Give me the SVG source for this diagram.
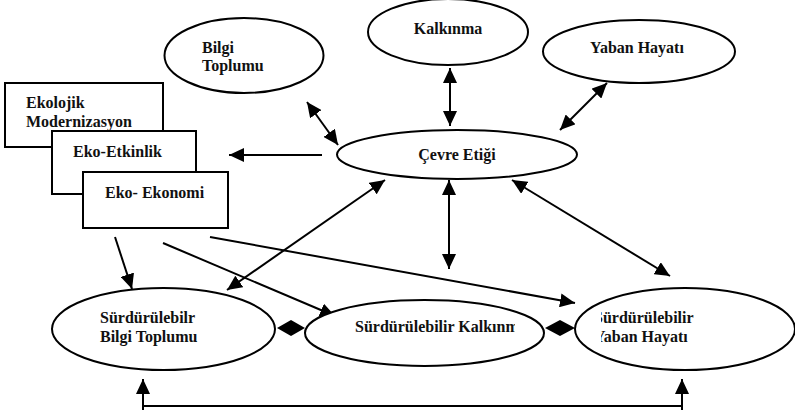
<svg xmlns="http://www.w3.org/2000/svg" width="795" height="414" viewBox="0 0 795 414">
<style>
.n{fill:#fff;stroke:#000;stroke-width:2}
.t{font-family:"Liberation Serif","Times New Roman",serif;font-weight:bold;font-size:16px;fill:#111}
.c{fill:none;stroke:#000;stroke-width:2}
.d{fill:#000;stroke:none}
</style>
<defs>
<marker id="ah" markerUnits="userSpaceOnUse" markerWidth="15" markerHeight="14" refX="15" refY="7" orient="auto-start-reverse">
<path d="M0,0 L15,7 L0,14 z" fill="#000"/>
</marker>
<clipPath id="clipK"><rect x="300" y="300" width="215" height="60"/></clipPath>
<clipPath id="clipY"><rect x="601" y="300" width="180" height="60"/></clipPath>
</defs>
<rect width="795" height="414" fill="#fff"/>
<g id="connectors">
<line class="c" x1="322" y1="155" x2="229" y2="155" marker-end="url(#ah)"/>
<line class="c" x1="307" y1="102" x2="338" y2="145" marker-start="url(#ah)" marker-end="url(#ah)"/>
<line class="c" x1="450" y1="68" x2="450" y2="126" marker-start="url(#ah)" marker-end="url(#ah)"/>
<line class="c" x1="607" y1="83" x2="560" y2="130" marker-start="url(#ah)" marker-end="url(#ah)"/>
<line class="c" x1="449" y1="180" x2="449" y2="269" marker-start="url(#ah)" marker-end="url(#ah)"/>
<line class="c" x1="512" y1="180" x2="670" y2="276" marker-start="url(#ah)" marker-end="url(#ah)"/>
<line class="c" x1="385" y1="180" x2="227" y2="290" marker-start="url(#ah)" marker-end="url(#ah)"/>
<line class="c" x1="115" y1="237" x2="132" y2="289" marker-end="url(#ah)"/>
<line class="c" x1="163" y1="243" x2="335" y2="316" marker-end="url(#ah)"/>
<line class="c" x1="210" y1="237" x2="575" y2="303" marker-end="url(#ah)"/>
<polyline class="c" points="143,410 143,406 682,406 682,410"/>
<line class="c" x1="143" y1="406" x2="143" y2="379" marker-end="url(#ah)"/>
<line class="c" x1="682" y1="406" x2="682" y2="379" marker-end="url(#ah)"/>
<path class="d" d="M277,328 L291,320 L305,328 L291,336 z"/>
<path class="d" d="M545,328 L560,320 L575,328 L560,336 z"/>
</g>
<g id="ekolojik">
<rect class="n" x="5" y="83" width="158" height="64"/>
<text class="t" x="26" y="108">Ekolojik</text>
<text class="t" x="26" y="127">Modernizasyon</text>
</g>
<g id="etkinlik">
<rect class="n" x="52" y="131" width="144" height="63"/>
<text class="t" x="73" y="157">Eko-Etkinlik</text>
</g>
<g id="ekonomi">
<rect class="n" x="83" y="172" width="145" height="56"/>
<text class="t" x="105" y="198">Eko- Ekonomi</text>
</g>
<g id="bilgi">
<ellipse class="n" cx="244" cy="55.5" rx="79.5" ry="37.5"/>
<text class="t" x="202" y="53">Bilgi</text>
<text class="t" x="202" y="71">Toplumu</text>
</g>
<g id="kalkinma">
<ellipse class="n" cx="448" cy="32" rx="80" ry="33"/>
<text class="t" x="448" y="34" text-anchor="middle">Kalkınma</text>
</g>
<g id="yaban">
<ellipse class="n" cx="639" cy="51.5" rx="96" ry="31.5"/>
<text class="t" x="637" y="53" text-anchor="middle">Yaban Hayatı</text>
</g>
<g id="cevre">
<ellipse class="n" cx="457" cy="154.5" rx="120" ry="24.5"/>
<text class="t" x="457" y="160" text-anchor="middle">Çevre Etiği</text>
</g>
<g id="sbilgi">
<ellipse class="n" cx="163.5" cy="329" rx="111.5" ry="41"/>
<text class="t" x="100" y="323">Sürdürülebilr</text>
<text class="t" x="100" y="342">Bilgi Toplumu</text>
</g>
<g id="skalkinma">
<ellipse class="n" cx="424.5" cy="333" rx="119.5" ry="33"/>
<text class="t" x="355" y="332" clip-path="url(#clipK)">Sürdürülebilir Kalkınma</text>
</g>
<g id="syaban">
<ellipse class="n" cx="685" cy="329" rx="110" ry="41"/>
<text class="t" x="594" y="323" clip-path="url(#clipY)">Sürdürülebilir</text>
<text class="t" x="594" y="342" clip-path="url(#clipY)">Yaban Hayatı</text>
</g>
</svg>
